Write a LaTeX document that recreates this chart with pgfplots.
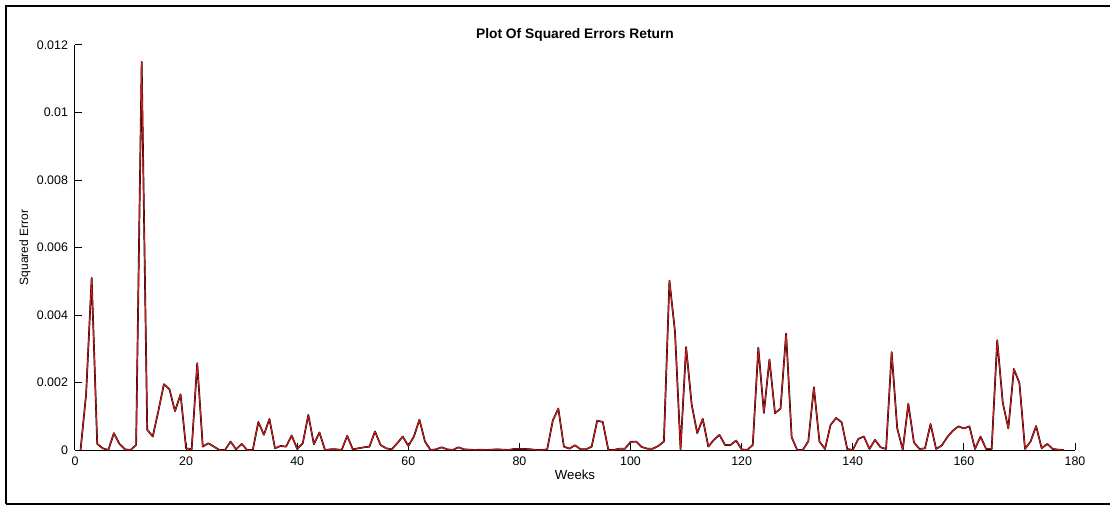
\documentclass[border=0pt]{standalone}
\usepackage{pgfplots}
\pgfplotsset{compat=1.18}
\usepackage{pgfplotstable}
\usepackage{fontspec}
\setmainfont{Liberation Sans}
\definecolor{mred}{RGB}{214,24,24}
\pgfplotstableread{
w v
1 0
2 0.00165
3 0.0051
4 0.00018
5 0.00005
6 0
7 0.0005
8 0.00018
9 0.00002
10 0
11 0.00015
12 0.0115
13 0.0006
14 0.0004
15 0.00115
16 0.00195
17 0.0018
18 0.00115
19 0.00165
20 0.00005
21 0.00002
22 0.00257
23 0.0001
24 0.0002
25 0.0001
26 0
27 0
28 0.00025
29 0.00002
30 0.00018
31 0
32 0
33 0.00083
34 0.00045
35 0.00092
36 0.00005
37 0.00012
38 0.0001
39 0.00043
40 0.00003
41 0.0002
42 0.00104
43 0.00017
44 0.00052
45 0
46 0.00002
47 0.00002
48 0
49 0.00042
50 0.00002
51 0.00005
52 0.00008
53 0.0001
54 0.00055
55 0.00015
56 0.00005
57 0.00002
58 0.0002
59 0.0004
60 0.00012
61 0.0004
62 0.0009
63 0.00025
64 0
65 0.00002
66 0.00008
67 0.00002
68 0
69 0.00008
70 0.00002
71 0.00001
72 0
73 0.00001
74 0
75 0.00001
76 0.00002
77 0.00001
78 0
79 0.00003
80 0.00003
81 0.00003
82 0.00002
83 0
84 0
85 0.00002
86 0.00087
87 0.00123
88 0.0001
89 0.00004
90 0.00014
91 0.00002
92 0.00002
93 0.0001
94 0.00087
95 0.00083
96 0
97 0
98 0.00004
99 0.00004
100 0.00024
101 0.00025
102 0.00009
103 0.00004
104 0.00004
105 0.00012
106 0.00025
107 0.00502
108 0.0035
109 0.00002
110 0.00305
111 0.00135
112 0.0005
113 0.00092
114 0.0001
115 0.0003
116 0.00045
117 0.00015
118 0.00015
119 0.00028
120 0.00002
121 0
122 0.00015
123 0.00303
124 0.0011
125 0.00268
126 0.00109
127 0.00123
128 0.00345
129 0.00038
130 0
131 0
132 0.00026
133 0.00186
134 0.00025
135 0.00003
136 0.00074
137 0.00095
138 0.00082
139 0.00003
140 0
141 0.00033
142 0.0004
143 0.00003
144 0.0003
145 0.00008
146 0.00003
147 0.0029
148 0.00064
149 0.00001
150 0.00137
151 0.00023
152 0.00003
153 0.00005
154 0.00077
155 0.00003
156 0.00013
157 0.00038
158 0.00057
159 0.0007
160 0.00064
161 0.0007
162 0.00003
163 0.0004
164 0.00003
165 0.00003
166 0.00325
167 0.0014
168 0.00064
169 0.0024
170 0.00198
171 0.00003
172 0.00025
173 0.00071
174 0.00005
175 0.00018
176 0.00003
177 0.00001
178 0
}\sqerr
\begin{document}
\begin{tikzpicture}[x=0.5pt,y=0.5pt]
\useasboundingbox (0,0) rectangle (1110,505);
\fill[white] (0,0) rectangle (1110,505);
\draw[line width=1.1pt] (6,1) -- (6,499) -- (1115,499);
\draw[line width=1.1pt] (6,1) -- (1115,1);
\begin{axis}[
  at={(37.5pt,27.5pt)}, anchor=south west,
  scale only axis, width=500pt, height=202.5pt,
  xmin=0, xmax=180, ymin=0, ymax=0.012,
  axis x line*=bottom, axis y line*=left,
  axis line style={line width=0.5pt, black},
  xtick={0,20,...,180},
  ytick={0,0.002,0.004,0.006,0.008,0.01,0.012},
  tick align=inside, major tick length=3.5pt,
  tick style={line width=0.5pt, black},
  scaled y ticks=false,
  yticklabel style={/pgf/number format/fixed, /pgf/number format/precision=3},
  /pgf/number format/assume math mode=true,
  tick label style={font=\fontsize{6.2pt}{7pt}\selectfont},
  xlabel={Weeks},
  xlabel style={font=\fontsize{6.6pt}{7pt}\selectfont, at={(axis description cs:0.5,-0.0617)}, anchor=center},
  ylabel={Squared Error},
  ylabel style={font=\fontsize{6.0pt}{7pt}\selectfont, at={(axis description cs:-0.05,0.5)}, anchor=center, rotate=0},
  clip=false,
]
\addplot[black, line width=0.85pt, line join=round] table[x=w,y=v] {\sqerr};
\addplot[mred, line width=0.5pt, line join=round] table[x=w,y=v] {\sqerr};
\node[font=\fontsize{6.9pt}{8pt}\selectfont\bfseries, anchor=center] at (axis description cs:0.5,1.0247) {Plot Of Squared Errors Return};
\end{axis}
\end{tikzpicture}
\end{document}
